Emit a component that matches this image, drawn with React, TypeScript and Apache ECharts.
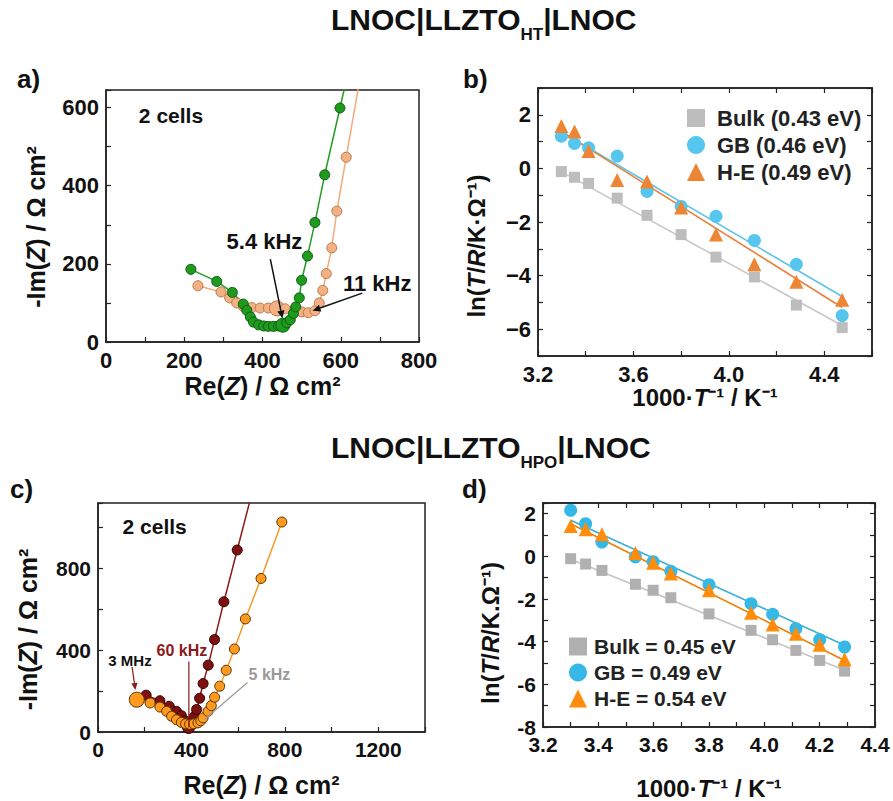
import React, { useEffect, useRef } from "react";
import * as echarts from "echarts";

const FONT = '"Liberation Sans", Arial, Helvetica, sans-serif';

// ---------- Panel a: LNOC|LLZTO_HT|LNOC, Nyquist (two cells)
const aPeachRe = [235, 294, 316, 334, 351, 373, 394, 415, 437, 458, 483, 500, 517, 534, 545, 554, 563, 577, 590, 614, 657];
const aPeachIm = [144, 128, 113, 100, 91, 88, 87, 87, 86, 85, 83, 77, 75, 80, 100, 132, 175, 241, 335, 473, 720];
const aGreenRe = [217, 283, 323, 351, 360, 369, 377, 390, 403, 415, 428, 441, 452, 462, 471, 479, 485, 494, 500, 515, 534, 559, 598, 621];
const aGreenIm = [186, 155, 127, 97, 81, 64, 51, 44, 41, 40, 40, 41, 43, 49, 57, 73, 90, 113, 158, 220, 306, 428, 599, 700];

// ---------- Panel b: Arrhenius, LLZTO_HT
const bInvT = [3.298, 3.353, 3.412, 3.532, 3.657, 3.8, 3.946, 4.107, 4.283, 4.475];
const bBulk = [-0.12, -0.33, -0.56, -1.11, -1.75, -2.47, -3.31, -4.05, -5.1, -5.94];
const bGB = [1.2, 0.93, 0.77, 0.46, -0.86, -1.42, -1.79, -2.69, -3.58, -5.49];
const bHE = [1.58, 1.38, 0.65, -0.43, -0.49, -1.46, -2.47, -3.58, -4.23, -4.9];
const bFitInvT = [3.298, 4.475];
const bFitBulk = [-0.12, -5.86];
const bFitGB = [1.36, -4.78];
const bFitHE = [1.38, -5.19];
const bNames = ["Bulk (0.43 eV)", "GB (0.46 eV)", "H-E (0.49 eV)"];

// ---------- Panel c: LNOC|LLZTO_HPO|LNOC, Nyquist (two cells)
const cRedRe = [206, 265, 305, 336, 357, 372, 382, 388, 400, 412, 422, 435, 450, 472, 499, 539, 596, 673];
const cRedIm = [180, 153, 126, 101, 80, 55, 30, 22, 45, 75, 110, 165, 237, 327, 452, 637, 890, 1230];
const cOrRe = [166, 223, 265, 294, 315, 336, 357, 375, 392, 410, 428, 440, 450, 471, 485, 499, 521, 549, 584, 631, 698, 787];
const cOrIm = [158, 142, 122, 101, 77, 60, 47, 40, 38, 40, 45, 55, 69, 101, 129, 170, 224, 302, 406, 553, 751, 1027];

// ---------- Panel d: Arrhenius, LLZTO_HPO
const dInvT = [3.3, 3.354, 3.413, 3.534, 3.598, 3.662, 3.8, 3.952, 4.03, 4.114, 4.2, 4.29];
const dBulk = [-0.11, -0.36, -0.66, -1.31, -1.59, -1.94, -2.7, -3.47, -3.91, -4.41, -4.88, -5.38];
const dGB = [2.16, 1.53, 0.67, -0.03, -0.25, -0.7, -1.33, -2.22, -2.72, -3.39, -3.91, -4.25];
const dHE = [1.42, 1.27, 1.03, 0.16, -0.3, -0.81, -1.59, -2.64, -3.19, -3.63, -4.14, -4.83];
const dFitInvT = [3.3, 4.29];
const dFitBulk = [-0.14, -5.34];
const dFitGB = [1.69, -4.17];
const dFitHE = [1.53, -4.88];
const dNames = ["Bulk = 0.45 eV", "GB = 0.49 eV", "H-E = 0.54 eV"];

const pairs = (xs: number[], ys: number[]) => xs.map((x, i) => [x, ys[i]]);

const every = (step: number, digits: number, minus = "-") => (v: number) => {
  const k = Math.round(v / step);
  if (Math.abs(v - k * step) > 1e-6) return "";
  const s = Math.abs(v).toFixed(digits);
  return v < -1e-9 ? minus + s : s;
};

const bold = (size: number, extra: any = {}) => ({
  fontSize: size,
  fontWeight: "bold",
  fontFamily: FONT,
  color: "#111",
  ...extra,
});

function axis(
  gridIndex: number,
  min: number,
  max: number,
  interval: number,
  fmt: ((v: number) => string) | null,
  fontSize: number,
  extra: any = {}
) {
  return {
    type: "value",
    gridIndex,
    min,
    max,
    interval,
    axisLine: { show: true, onZero: false, lineStyle: { color: "#222", width: 1.5 } },
    axisTick: { show: true, inside: true, length: 5, lineStyle: { color: "#222", width: 1.2 } },
    axisLabel: fmt
      ? { show: true, formatter: fmt, margin: 7, ...bold(fontSize) }
      : { show: false },
    splitLine: { show: false },
    ...extra,
  };
}

const richI = (size: number) => ({
  i: { fontSize: size, fontWeight: "bold", fontStyle: "italic", fontFamily: FONT, color: "#111" },
});

function nameStyle(size: number, shift = 0) {
  return {
    ...bold(size),
    rich: richI(size),
    padding: shift ? [0, shift * 2, 0, 0] : 0,
  };
}

function lineSeries(name: string, xi: number, yi: number, data: number[][], color: string, lineColor: string, border: string, size: number, big: number, bigSize: number) {
  return {
    name,
    type: "line",
    xAxisIndex: xi,
    yAxisIndex: yi,
    data: data.map((p, i) => (i === big ? { value: p, symbolSize: bigSize } : p)),
    symbol: "circle",
    symbolSize: size,
    showSymbol: true,
    clip: true,
    lineStyle: { color: lineColor, width: 1.5 },
    itemStyle: { color, borderColor: border, borderWidth: 1 },
    emphasis: { disabled: true },
  };
}

function fit(name: string, xi: number, yi: number, xs: number[], ys: number[], color: string) {
  return {
    name,
    type: "line",
    xAxisIndex: xi,
    yAxisIndex: yi,
    data: pairs(xs, ys),
    showSymbol: false,
    lineStyle: { color, width: 1.6 },
    emphasis: { disabled: true },
    z: 2,
  };
}

function scat(name: string, xi: number, yi: number, xs: number[], ys: number[], symbol: string, size: number, color: string) {
  return {
    name,
    type: "scatter",
    xAxisIndex: xi,
    yAxisIndex: yi,
    data: pairs(xs, ys),
    symbol,
    symbolSize: size,
    itemStyle: { color, opacity: 1 },
    emphasis: { disabled: true },
    z: 3,
  };
}

const B_GRAY = "#BDBDBD";
const B_BLUE = "#56C6EE";
const B_ORANGE = "#EE8534";
const D_GRAY = "#B0B0B0";
const D_BLUE = "#35B8E6";
const D_ORANGE = "#FF8C0A";

function buildOption() {
  const grids = [
    { left: 106, top: 90, width: 313, height: 252 },
    { left: 538, top: 88, width: 334, height: 268 },
    { left: 98, top: 503, width: 327, height: 229 },
    { left: 543, top: 503, width: 332, height: 224 },
  ].map((g) => ({ ...g, show: true, borderColor: "#222", borderWidth: 1.5, backgroundColor: "transparent" }));

  const xAxis = [
    axis(0, 0, 800, 100, every(200, 0), 22, {
      name: "Re({i|Z}) / Ω cm²",
      nameLocation: "middle",
      nameGap: 31,
      nameTextStyle: nameStyle(25),
    }),
    axis(1, 3.2, 4.6, 0.2, every(0.4, 1), 22, {
      name: "1000·{i|T}⁻¹ / K⁻¹",
      nameLocation: "middle",
      nameGap: 9,
      nameTextStyle: nameStyle(24),
    }),
    axis(2, 0, 1400, 200, every(400, 0), 21, {
      name: "Re({i|Z}) / Ω cm²",
      nameLocation: "middle",
      nameGap: 40,
      nameTextStyle: nameStyle(25),
    }),
    axis(3, 3.2, 4.4, 0.1, every(0.2, 1), 21, {
      name: "1000·{i|T}⁻¹ / K⁻¹",
      nameLocation: "middle",
      nameGap: 49,
      nameTextStyle: nameStyle(24),
    }),
    axis(1, 3.2, 4.6, 0.2, null, 21, { position: "top" }),
    axis(3, 3.2, 4.4, 0.1, null, 20, { position: "top" }),
  ];

  const yAxis = [
    axis(0, 0, 645, 100, every(200, 0), 22, {
      name: "-Im({i|Z}) / Ω cm²",
      nameLocation: "middle",
      nameGap: 58,
      nameTextStyle: nameStyle(25, 11),
    }),
    axis(1, -7, 3, 1, every(2, 0, "\u2212"), 22, {
      name: "ln({i|T}/{i|R}/K·Ω⁻¹)",
      nameLocation: "middle",
      nameGap: 50,
      nameTextStyle: nameStyle(24, 24),
    }),
    axis(2, 0, 1120, 200, every(400, 0), 21, {
      name: "-Im({i|Z}) / Ω cm²",
      nameLocation: "middle",
      nameGap: 58,
      nameTextStyle: nameStyle(25, 12),
    }),
    axis(3, -8, 2.5, 1, every(2, 0), 21, {
      name: "ln({i|T}/{i|R}/K.Ω⁻¹)",
      nameLocation: "middle",
      nameGap: 41,
      nameTextStyle: nameStyle(24, 18),
    }),
    axis(1, -7, 3, 1, null, 21, { position: "right" }),
    axis(3, -8, 2.5, 1, null, 20, { position: "right" }),
  ];

  const series: any[] = [
    // 0,1 panel a
    lineSeries("a cell 1", 0, 0, pairs(aPeachRe, aPeachIm), "#F4B183", "#F0AC7C", "#B8794A", 10, 8, 15),
    lineSeries("a cell 2", 0, 0, pairs(aGreenRe, aGreenIm), "#1E9A1E", "#229C22", "#0E5E0E", 10, 12, 14),
    // 2-4 panel b fits
    fit("b fit bulk", 1, 1, bFitInvT, bFitBulk, "#C8C8C8"),
    fit("b fit gb", 1, 1, bFitInvT, bFitGB, "#5CC3EA"),
    fit("b fit he", 1, 1, bFitInvT, bFitHE, "#E8823A"),
    // 5-7 panel b points
    scat(bNames[0], 1, 1, bInvT, bBulk, "rect", 11, B_GRAY),
    scat(bNames[1], 1, 1, bInvT, bGB, "circle", 13, B_BLUE),
    scat(bNames[2], 1, 1, bInvT, bHE, "triangle", 14, B_ORANGE),
    // 8,9 panel c
    lineSeries("c cell 1", 2, 2, pairs(cRedRe, cRedIm), "#7E1010", "#8B1A1A", "#2E0000", 10, 7, 12),
    lineSeries("c cell 2", 2, 2, pairs(cOrRe, cOrIm), "#FF9A1F", "#F39A2A", "#5A3300", 10, 0, 15),
    // 10-12 panel d fits
    fit("d fit bulk", 3, 3, dFitInvT, dFitBulk, "#C4C4C4"),
    fit("d fit gb", 3, 3, dFitInvT, dFitGB, "#3AAFDA"),
    fit("d fit he", 3, 3, dFitInvT, dFitHE, "#F07E00"),
    // 13-15 panel d points
    scat(dNames[0], 3, 3, dInvT, dBulk, "rect", 11, D_GRAY),
    scat(dNames[1], 3, 3, dInvT, dGB, "circle", 13, D_BLUE),
    scat(dNames[2], 3, 3, dInvT, dHE, "triangle", 14, D_ORANGE),
  ];

  const legendText = (size: number, pad: number) => ({ ...bold(size, { color: "#222" }), padding: [0, 0, 0, pad] });

  return {
    animation: false,
    backgroundColor: "#fff",
    grid: grids,
    xAxis,
    yAxis,
    legend: [
      {
        data: bNames,
        orient: "vertical",
        left: 682,
        top: 102,
        itemGap: 5,
        itemWidth: 18,
        itemHeight: 18,
        selectedMode: false,
        textStyle: legendText(22, 7),
      },
      {
        data: dNames,
        orient: "vertical",
        left: 564,
        top: 631,
        itemGap: 5,
        itemWidth: 18,
        itemHeight: 18,
        selectedMode: false,
        textStyle: legendText(21, 2),
      },
    ],
    series,
  };
}

function arrow(p1: number[], p2: number[], color: string, width: number, head = 8) {
  const dx = p2[0] - p1[0];
  const dy = p2[1] - p1[1];
  const len = Math.hypot(dx, dy) || 1;
  const ux = dx / len;
  const uy = dy / len;
  const bx = p2[0] - ux * head;
  const by = p2[1] - uy * head;
  const w = head * 0.45;
  return [
    { type: "line", z: 100, silent: true, shape: { x1: p1[0], y1: p1[1], x2: bx, y2: by }, style: { stroke: color, lineWidth: width } },
    {
      type: "polygon",
      z: 100,
      silent: true,
      shape: { points: [[p2[0], p2[1]], [bx - uy * w, by + ux * w], [bx + uy * w, by - ux * w]] },
      style: { fill: color },
    },
  ];
}

function seg(p1: number[], p2: number[], color: string, width: number) {
  return { type: "line", z: 100, silent: true, shape: { x1: p1[0], y1: p1[1], x2: p2[0], y2: p2[1] }, style: { stroke: color, lineWidth: width } };
}

function label(p: number[], text: string, size: number, color = "#111", align = "center") {
  return {
    type: "text",
    z: 100,
    silent: true,
    x: p[0],
    y: p[1],
    style: { text, fill: color, fontSize: size, fontWeight: "bold", fontFamily: FONT, align, verticalAlign: "middle" },
  };
}

function title(x: number, y: number, sub: string) {
  return {
    type: "text",
    z: 100,
    silent: true,
    x,
    y,
    style: {
      text: `{m|LNOC|LLZTO}{s|${sub}}{m||LNOC}`,
      align: "left",
      verticalAlign: "top",
      rich: {
        m: { fontSize: 30, fontWeight: "bold", fontFamily: FONT, fill: "#111" },
        s: { fontSize: 17, fontWeight: "bold", fontFamily: FONT, fill: "#111", padding: [30, 0, 0, 0] },
      },
    },
  };
}

export default function App() {
  const ref = useRef<HTMLDivElement>(null);
  useEffect(() => {
    if (!ref.current) return;
    const chart = echarts.init(ref.current, null, { renderer: "svg" });
    chart.setOption(buildOption() as any);

    const P = (si: number, x: number, y: number) => chart.convertToPixel({ seriesIndex: si }, [x, y]) as number[];

    const graphic: any[] = [
      title(331, -4, "HT"),
      title(331, 424, "HPO"),
      label([17, 79], "a)", 26, "#111", "left"),
      label([463, 79], "b)", 26, "#111", "left"),
      label([10, 489], "c)", 26, "#111", "left"),
      label([462, 489], "d)", 26, "#111", "left"),
      // panel a
      label(P(0, 84, 580), "2 cells", 21, "#111", "left"),
      label(P(0, 405, 258), "5.4 kHz", 22),
      ...arrow(P(0, 420, 212), P(0, 451, 60), "#111", 1.5),
      label(P(0, 693, 150), "11 kHz", 22),
      ...arrow(P(0, 655, 125), P(0, 528, 80), "#111", 1.5),
      // panel c
      label(P(8, 105, 1005), "2 cells", 21, "#111", "left"),
      label(P(8, 137, 349), "3 MHz", 15),
      ...arrow(P(8, 146, 318), P(8, 160, 205), "#8B1A1A", 1.2, 7),
      label(P(8, 359, 398), "60 kHz", 16, "#8B1A1A"),
      seg(P(8, 389, 345), P(8, 389, 22), "#8B1A1A", 1.2),
      label(P(8, 734, 281), "5 kHz", 16, "#9A9A9A"),
      seg(P(8, 640, 242), P(8, 457, 62), "#9A9A9A", 1.2),
    ];
    chart.setOption({ graphic });

    return () => chart.dispose();
  }, []);
  return <div ref={ref} style={{ position: "fixed", left: 0, top: 0, width: 893, height: 801 }} />;
}
